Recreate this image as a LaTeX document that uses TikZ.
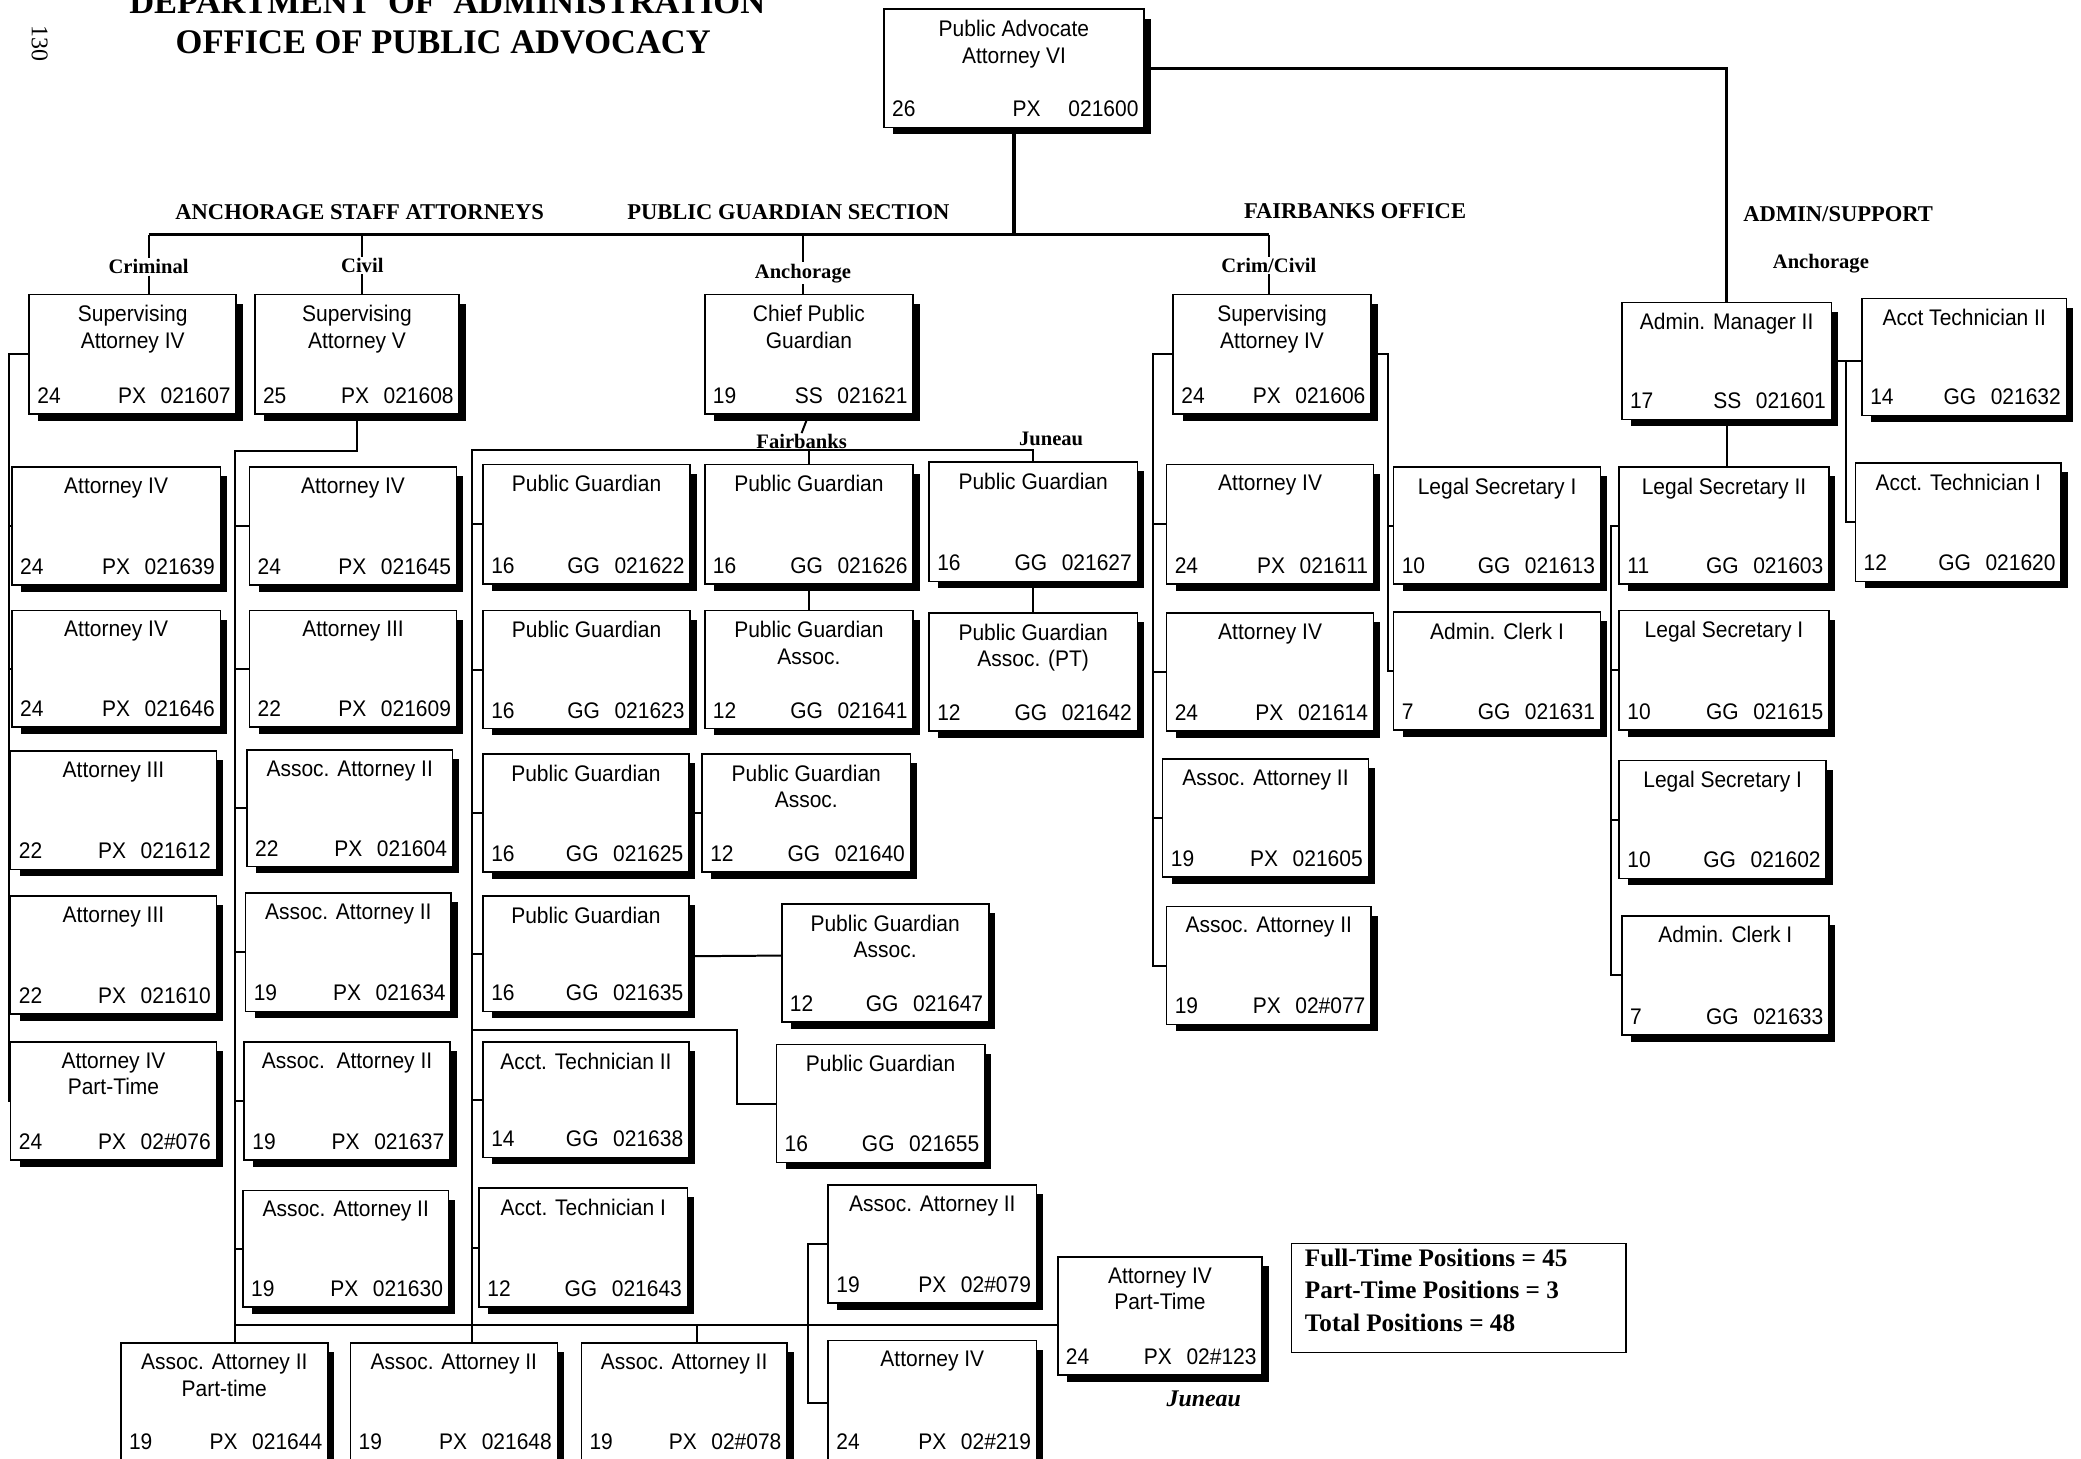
\documentclass[tikz,border=0pt]{standalone}
\usepackage{fontspec}
\setmainfont{Liberation Serif}
\newfontfamily\boxfont{Liberation Sans}[FakeStretch=0.93]
\usetikzlibrary{calc}

% position box: name, x1, y1, x2, y2, title, grade, class + number
\def\numoff{8}
\newcommand\cls[2]{#1\hspace{11pt}#2}
\newcommand\posbox[8]{%
  \fill (#4,#3+7) rectangle (#4+5,#5+5);
  \fill (#2+7,#5) rectangle (#4+5,#5+5);
  \node[posrect, minimum width={#4-#2}, minimum height={#5-#3}] (#1) at ({(#2+#4)/2},{(#3+#5)/2}) {};
  \node[boxtitle] (#1-t) at ({(#2+#4)/2},#3+8) {#6};
  \node[boxnum, anchor=base west] (#1-g) at (#2+6,#5-\numoff) {#7};
  \node[boxnum, anchor=base east] (#1-c) at (#4-4,#5-\numoff) {#8};
}

\tikzset{
  posrect/.style={draw, line width=1.2pt, fill=white, inner sep=0pt, outer sep=0pt},
  boxtitle/.style={anchor=north, align=center, inner sep=0pt,
    font=\boxfont\fontsize{17}{20}\selectfont},
  boxnum/.style={inner sep=0pt, font=\boxfont\fontsize{17}{20}\selectfont},
  link/.style={line width=1.5pt},
  trunk/.style={line width=2.4pt},
  head/.style={font=\bfseries\fontsize{17}{20}\selectfont, inner sep=0pt},
  sublabel/.style={font=\bfseries\fontsize{15.5}{18}\selectfont, inner sep=1pt},
}

\begin{document}
\begin{tikzpicture}[x=1pt,y=-1pt]
\useasboundingbox (0,0) rectangle (1568,1099);
\clip (0,0) rectangle (1568,1099);
\fill[white] (0,0) rectangle (1568,1099);

% ---------- titles ----------
\node[font=\bfseries\fontsize{26}{30}\selectfont, anchor=base, inner sep=0] (dept) at (337,10) {DEPARTMENT\ \ OF\ \ ADMINISTRATION};
\node[font=\bfseries\fontsize{26}{30}\selectfont, anchor=base, inner sep=0] (office) at (334,40) {OFFICE OF PUBLIC ADVOCACY};
\node[font=\fontsize{18}{20}\selectfont, rotate=-90, inner sep=0] (pageno) at (30,33) {130};

\node[head] (hanc) at (271,160) {ANCHORAGE STAFF ATTORNEYS};
\node[head] (hpg) at (594,160) {PUBLIC GUARDIAN SECTION};
\node[head] (hfbx) at (1021,159) {FAIRBANKS OFFICE};
\node[head] (hadm) at (1385,161) {ADMIN/SUPPORT};

% ---------- positions ----------
\posbox{pa}{666}{7}{862}{96}{Public Advocate\\Attorney VI}{26}{\cls{PX}{\hspace{10pt}021600}}

\posbox{sac}{22}{222}{178}{312}{Supervising\\Attorney IV}{24}{\cls{PX}{021607}}
\posbox{sav}{192}{222}{346}{312}{Supervising\\Attorney V}{25}{\cls{PX}{021608}}
\posbox{cpg}{531}{222}{688}{312}{Chief Public\\Guardian}{19}{\cls{SS}{021621}}
\posbox{saf}{884}{222}{1033}{312}{Supervising\\Attorney IV}{24}{\cls{PX}{021606}}
\posbox{am}{1222}{228}{1380}{316}{Admin. Manager II}{17}{\cls{SS}{021601}}
\posbox{atb}{1403}{225}{1557}{313}{Acct Technician II}{14}{\cls{GG}{021632}}

% criminal
\posbox{ca}{9}{352}{166}{441}{Attorney IV}{24}{\cls{PX}{021639}}
\posbox{cb}{9}{460}{166}{548}{Attorney IV}{24}{\cls{PX}{021646}}
\posbox{cc}{8}{566}{163}{655}{Attorney III}{22}{\cls{PX}{021612}}
\posbox{cd}{8}{675}{163}{764}{Attorney III}{22}{\cls{PX}{021610}}
\posbox{ce}{8}{785}{163}{874}{Attorney IV\\Part-Time}{24}{\cls{PX}{02\#076}}

% civil
\posbox{va}{188}{352}{344}{441}{Attorney IV}{24}{\cls{PX}{021645}}
\posbox{vb}{188}{460}{344}{548}{Attorney III}{22}{\cls{PX}{021609}}
\posbox{vc}{186}{565}{341}{653}{Assoc. Attorney II}{22}{\cls{PX}{021604}}
\posbox{vd}{185}{673}{340}{762}{Assoc. Attorney II}{19}{\cls{PX}{021634}}
\posbox{ve}{184}{785}{339}{874}{Assoc.\ \ Attorney II}{19}{\cls{PX}{021637}}
\posbox{vf}{183}{897}{338}{985}{Assoc. Attorney II}{19}{\cls{PX}{021630}}

% public guardian section
\posbox{ga}{364}{350}{520}{440}{Public Guardian}{16}{\cls{GG}{021622}}
\posbox{gb}{531}{350}{688}{440}{Public Guardian}{16}{\cls{GG}{021626}}
\posbox{gc}{700}{348}{857}{438}{Public Guardian}{16}{\cls{GG}{021627}}
\posbox{gd}{364}{460}{520}{549}{Public Guardian}{16}{\cls{GG}{021623}}
\posbox{ge}{531}{460}{688}{549}{Public Guardian\\Assoc.}{12}{\cls{GG}{021641}}
\posbox{gf}{700}{462}{857}{551}{Public Guardian\\Assoc. (PT)}{12}{\cls{GG}{021642}}
\posbox{gg}{364}{568}{519}{657}{Public Guardian}{16}{\cls{GG}{021625}}
\posbox{gh}{529}{568}{686}{657}{Public Guardian\\Assoc.}{12}{\cls{GG}{021640}}
\posbox{gi}{364}{675}{519}{762}{Public Guardian}{16}{\cls{GG}{021635}}
\posbox{gj}{589}{681}{745}{770}{Public Guardian\\Assoc.}{12}{\cls{GG}{021647}}
\posbox{gk}{364}{785}{519}{872}{Acct. Technician II}{14}{\cls{GG}{021638}}
\posbox{gl}{585}{787}{742}{876}{Public Guardian}{16}{\cls{GG}{021655}}
\posbox{gm}{361}{895}{518}{985}{Acct. Technician I}{12}{\cls{GG}{021643}}

% juneau attorneys
\posbox{ja}{624}{893}{781}{982}{Assoc. Attorney II}{19}{\cls{PX}{02\#079}}
\posbox{jc}{797}{947}{951}{1036}{Attorney IV\\Part-Time}{24}{\cls{PX}{02\#123}}

% fairbanks office
\posbox{fa}{879}{350}{1035}{440}{Attorney IV}{24}{\cls{PX}{021611}}
\posbox{fb}{879}{462}{1035}{551}{Attorney IV}{24}{\cls{PX}{021614}}
\posbox{fc}{876}{572}{1031}{661}{Assoc. Attorney II}{19}{\cls{PX}{021605}}
\posbox{fd}{879}{683}{1033}{772}{Assoc. Attorney II}{19}{\cls{PX}{02\#077}}
\posbox{fe}{1050}{352}{1206}{440}{Legal Secretary I}{10}{\cls{GG}{021613}}
\posbox{ff}{1050}{461}{1206}{550}{Admin. Clerk I}{7}{\cls{GG}{021631}}

% admin / support
\posbox{aa}{1220}{352}{1378}{440}{Legal Secretary II}{11}{\cls{GG}{021603}}
\posbox{ab}{1220}{460}{1378}{550}{Legal Secretary I}{10}{\cls{GG}{021615}}
\posbox{ac}{1220}{573}{1376}{662}{Legal Secretary I}{10}{\cls{GG}{021602}}
\posbox{ad}{1222}{690}{1378}{780}{Admin. Clerk I}{7}{\cls{GG}{021633}}
\posbox{ae}{1398}{349}{1553}{438}{Acct. Technician I}{12}{\cls{GG}{021620}}

% bottom row (runs off the sheet)
\def\numoff{12}
\posbox{ba}{91}{1012}{247}{1104}{Assoc. Attorney II\\Part-time}{19}{\cls{PX}{021644}}
\posbox{bb}{264}{1012}{420}{1104}{Assoc. Attorney II}{19}{\cls{PX}{021648}}
\posbox{bc}{438}{1012}{593}{1104}{Assoc. Attorney II}{19}{\cls{PX}{02\#078}}
\posbox{jb}{624}{1010}{781}{1104}{Attorney IV}{24}{\cls{PX}{02\#219}}

% summary
\node[draw, line width=1.2pt, minimum width=252, minimum height=82, inner sep=0] (summary) at (1099,978) {};
\node[anchor=west, align=left, inner sep=0, font=\bfseries\fontsize{19}{24.5}\selectfont] (sumtext) at (983,972)
  {Full-Time Positions = 45\\Part-Time Positions = 3\\Total Positions = 48};
\node[font=\bfseries\itshape\fontsize{18}{20}\selectfont, inner sep=0] (juneau) at (907,1054) {Juneau};

% ---------- labels on the branches ----------
\node[sublabel] (lcrim) at (112,201) {Criminal};
\node[sublabel] (lciv) at (273,200) {Civil};
\node[sublabel] (lanc) at (605,206) {Anchorage};
\node[sublabel] (lcc) at (956,200) {Crim/Civil};
\node[sublabel] (lanc2) at (1372,199) {Anchorage};
\node[sublabel] (lfbx) at (604,333) {Fairbanks};
\node[sublabel] (ljnu) at (792,331) {Juneau};

% ---------- connectors ----------
\coordinate (topbar) at (0,177);
\coordinate (crimx) at (7,0);
\coordinate (civx) at (177,0);
\coordinate (pgx) at (356,0);
\coordinate (fbxl) at (869,0);
\coordinate (fbxr) at (1046,0);
\coordinate (admx) at (1214,0);
\coordinate (accx) at (1391,0);
\coordinate (pgbar) at (356,339);
\coordinate (lowbar) at (0,998);

\draw[trunk] (pa.south) -- (pa.south |- topbar);
\draw[trunk] (lcrim.north |- topbar) -- (lcc.north |- topbar);
\draw[trunk] (pa.east) -| (am.north);
\draw[link] (lcrim.north |- topbar) -- (lcrim.north);
\draw[link] (lciv.north |- topbar) -- (lciv.north);
\draw[link] (lanc.north |- topbar) -- (lanc.north);
\draw[link] (lcc.north |- topbar) -- (lcc.north);
\draw[link] (lcrim.south) -- (lcrim.south |- sac.north);
\draw[link] (lciv.south) -- (lciv.south |- sav.north);
\draw[link] (lanc.south) -- (lanc.south |- cpg.north);
\draw[link] (lcc.south) -- (lcc.south |- saf.north);

% criminal
\draw[link] (sac.west) -| (crimx |- ce.west) -- (ce.west);
\foreach \b in {ca,cb,cc,cd} \draw[link] (crimx |- \b.west) -- (\b.west);

% civil
\draw[link] (sav.south) -- ++(0,28) -| (civx |- ba.north);
\foreach \b in {va,vb,vc,vd,ve,vf} \draw[link] (civx |- \b.west) -- (\b.west);

% public guardian section
\draw[link] (cpg.south) -- (lfbx.north);
\draw[link] (pgx |- bb.north) -- (pgbar) -| (gc.north);
\draw[link] (gb.north |- pgbar) -- (gb.north);
\foreach \b in {ga,gd,gg,gi,gk,gm} \draw[link] (pgx |- \b.west) -- (\b.west);
\draw[link] (gb.south) -- (gb.south |- ge.north);
\draw[link] (gc.south) -- (gc.south |- gf.north);
\draw[link] (gg.east) -- (gg.east -| gh.west);
\draw[link] (gi.east) ++(0,2) -- (gj.west |- 0,720);
\draw[link] (pgx |- 0,776) -- (555,776) |- (gl.west);

% lower bar and juneau bracket
\draw[link] (civx |- lowbar) -- (jc.west |- lowbar);
\draw[link] (525,998) -- (525,1012);
\draw[link] (ja.west) -- ++(-15,0) |- (jb.west);

% fairbanks office
\draw[link] (saf.west) -| (fbxl |- fd.west) -- (fd.west);
\foreach \b in {fa,fb,fc} \draw[link] (fbxl |- \b.west) -- (\b.west);
\draw[link] (saf.east) -| (fbxr |- ff.west) -- (ff.west);
\draw[link] (fbxr |- fe.west) -- (fe.west);

% admin / support
\draw[link] (am.south) -- (am.south |- aa.north);
\draw[link] (aa.west) -| (admx |- ad.west) -- (ad.west);
\foreach \b in {ab,ac} \draw[link] (admx |- \b.west) -- (\b.west);
\draw[link] (am.east) -- (am.east -| atb.west);
\draw[link] (accx |- am.east) |- (ae.west);
\end{tikzpicture}
\end{document}
